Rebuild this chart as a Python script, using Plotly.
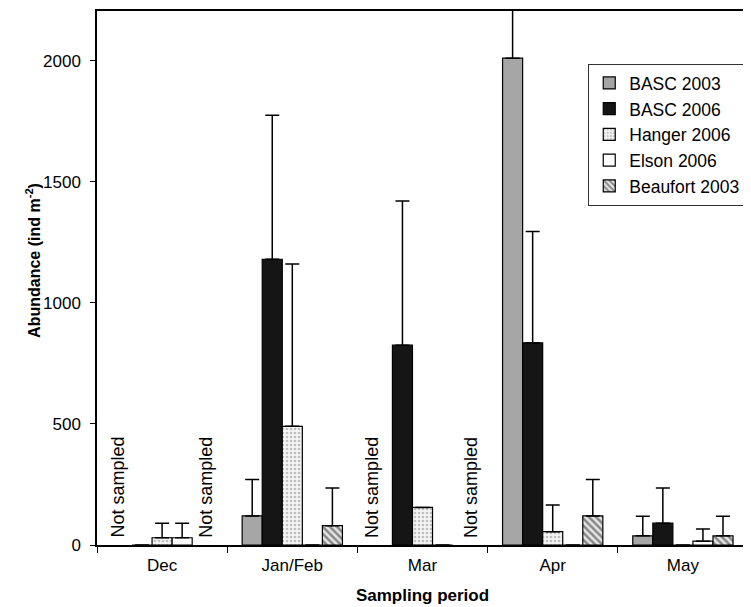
import plotly.graph_objects as go

categories = ["Dec", "Jan/Feb", "Mar", "Apr", "May"]
series_names = ["BASC 2003", "BASC 2006", "Hanger 2006", "Elson 2006", "Beaufort 2003"]

# mean abundance (None = not sampled)
basc2003 = [None, 120, None, 2010, 38]
basc2006 = [0, 1180, 825, 835, 90]
hanger2006 = [30, 490, 155, 55, 0]
elson2006 = [30, 0, 0, 0, 16]
beaufort2003 = [None, 80, None, 120, 38]

# upper end of the error bars (None = no error bar)
basc2003_err = [None, 270, None, 2450, 119]
basc2006_err = [None, 1775, 1420, 1295, 235]
hanger2006_err = [90, 1160, None, 165, None]
elson2006_err = [90, None, None, None, 66]
beaufort2003_err = [None, 235, None, 270, 119]

not_sampled = [("Dec", "BASC 2003"), ("Dec", "Beaufort 2003"),
               ("Mar", "BASC 2003"), ("Mar", "Beaufort 2003")]

values = [basc2003, basc2006, hanger2006, elson2006, beaufort2003]
errs = [basc2003_err, basc2006_err, hanger2006_err, elson2006_err, beaufort2003_err]

styles = [
    dict(color="#a6a6a6"),
    dict(color="#151515"),
    dict(color="#f4f4f4", pattern=dict(shape=".", fgcolor="#8a8a8a", bgcolor="#f4f4f4", size=4, solidity=0.35)),
    dict(color="white"),
    dict(color="#bdbdbd", pattern=dict(shape="\\", fgcolor="#2a2a2a", bgcolor="#e6e6e6", size=5, solidity=0.5)),
]

fig = go.Figure()
for name, v, e, st in zip(series_names, values, errs, styles):
    plus = [(ee - vv) if (ee is not None and vv is not None) else None for vv, ee in zip(v, e)]
    marker = dict(line=dict(color="black", width=1.2), **st)
    fig.add_trace(go.Bar(
        x=categories, y=v, name=name, marker=marker,
        error_y=dict(type="data", symmetric=False, array=plus,
                     arrayminus=[0] * len(v), color="black", thickness=1.5, width=7),
    ))

bargap = 0.23
slot = (1 - bargap) / len(series_names)
nudges = {("Dec", "BASC 2003"): -5, ("Dec", "Beaufort 2003"): 3,
          ("Mar", "BASC 2003"): -11, ("Mar", "Beaufort 2003"): 8}
annotations = []
for cat, ser in not_sampled:
    ci = categories.index(cat)
    si = series_names.index(ser)
    annotations.append(dict(
        x=ci + (si - (len(series_names) - 1) / 2) * slot, y=0, xref="x", yref="y",
        text="Not sampled", showarrow=False, textangle=-90,
        xanchor="center", yanchor="bottom", yshift=5, xshift=nudges[(cat, ser)],
        font=dict(size=18, color="black"),
    ))

# y-axis title placed as an annotation (sits slightly above the plot centre in the reference)
annotations.append(dict(
    x=0, y=0.532, xref="paper", yref="paper", xanchor="center", yanchor="middle",
    xshift=-64, text="<b>Abundance (ind m<sup>-2</sup>)</b>", showarrow=False, textangle=-90,
    font=dict(size=16, color="black"),
))

font = "Liberation Sans, Arial, sans-serif"
# the page body has an 8px margin, so the figure is sized to the window minus that offset
fig.update_layout(
    width=743, height=599,
    margin=dict(l=89, r=2, t=1, b=62),
    paper_bgcolor="white", plot_bgcolor="white",
    barmode="group", bargap=bargap, bargroupgap=0,
    font=dict(family=font, size=17, color="black"),
    annotations=annotations,
    legend=dict(x=0.997, y=0.901, xanchor="right", yanchor="top",
                bordercolor="#333", borderwidth=1.2, bgcolor="white",
                font=dict(size=17.5), tracegroupgap=0, itemwidth=30),
    xaxis=dict(
        type="category", showline=True, linecolor="black", linewidth=1.5, mirror=True,
        ticks="outside", tickson="boundaries", ticklen=6, tickcolor="black",
        tickfont=dict(size=17), ticklabelstandoff=4,
        title=dict(text="<b>Sampling period</b>", font=dict(size=17), standoff=15),
        showgrid=False,
    ),
    yaxis=dict(
        range=[0, 2205], tickvals=[0, 500, 1000, 1500, 2000],
        showline=True, linecolor="black", linewidth=1.5, mirror=True,
        ticks="outside", ticklen=5, tickcolor="black", tickfont=dict(size=17),
        ticklabelstandoff=6,
        showgrid=False, zeroline=False,
    ),
)

fig.write_html("out.html")
